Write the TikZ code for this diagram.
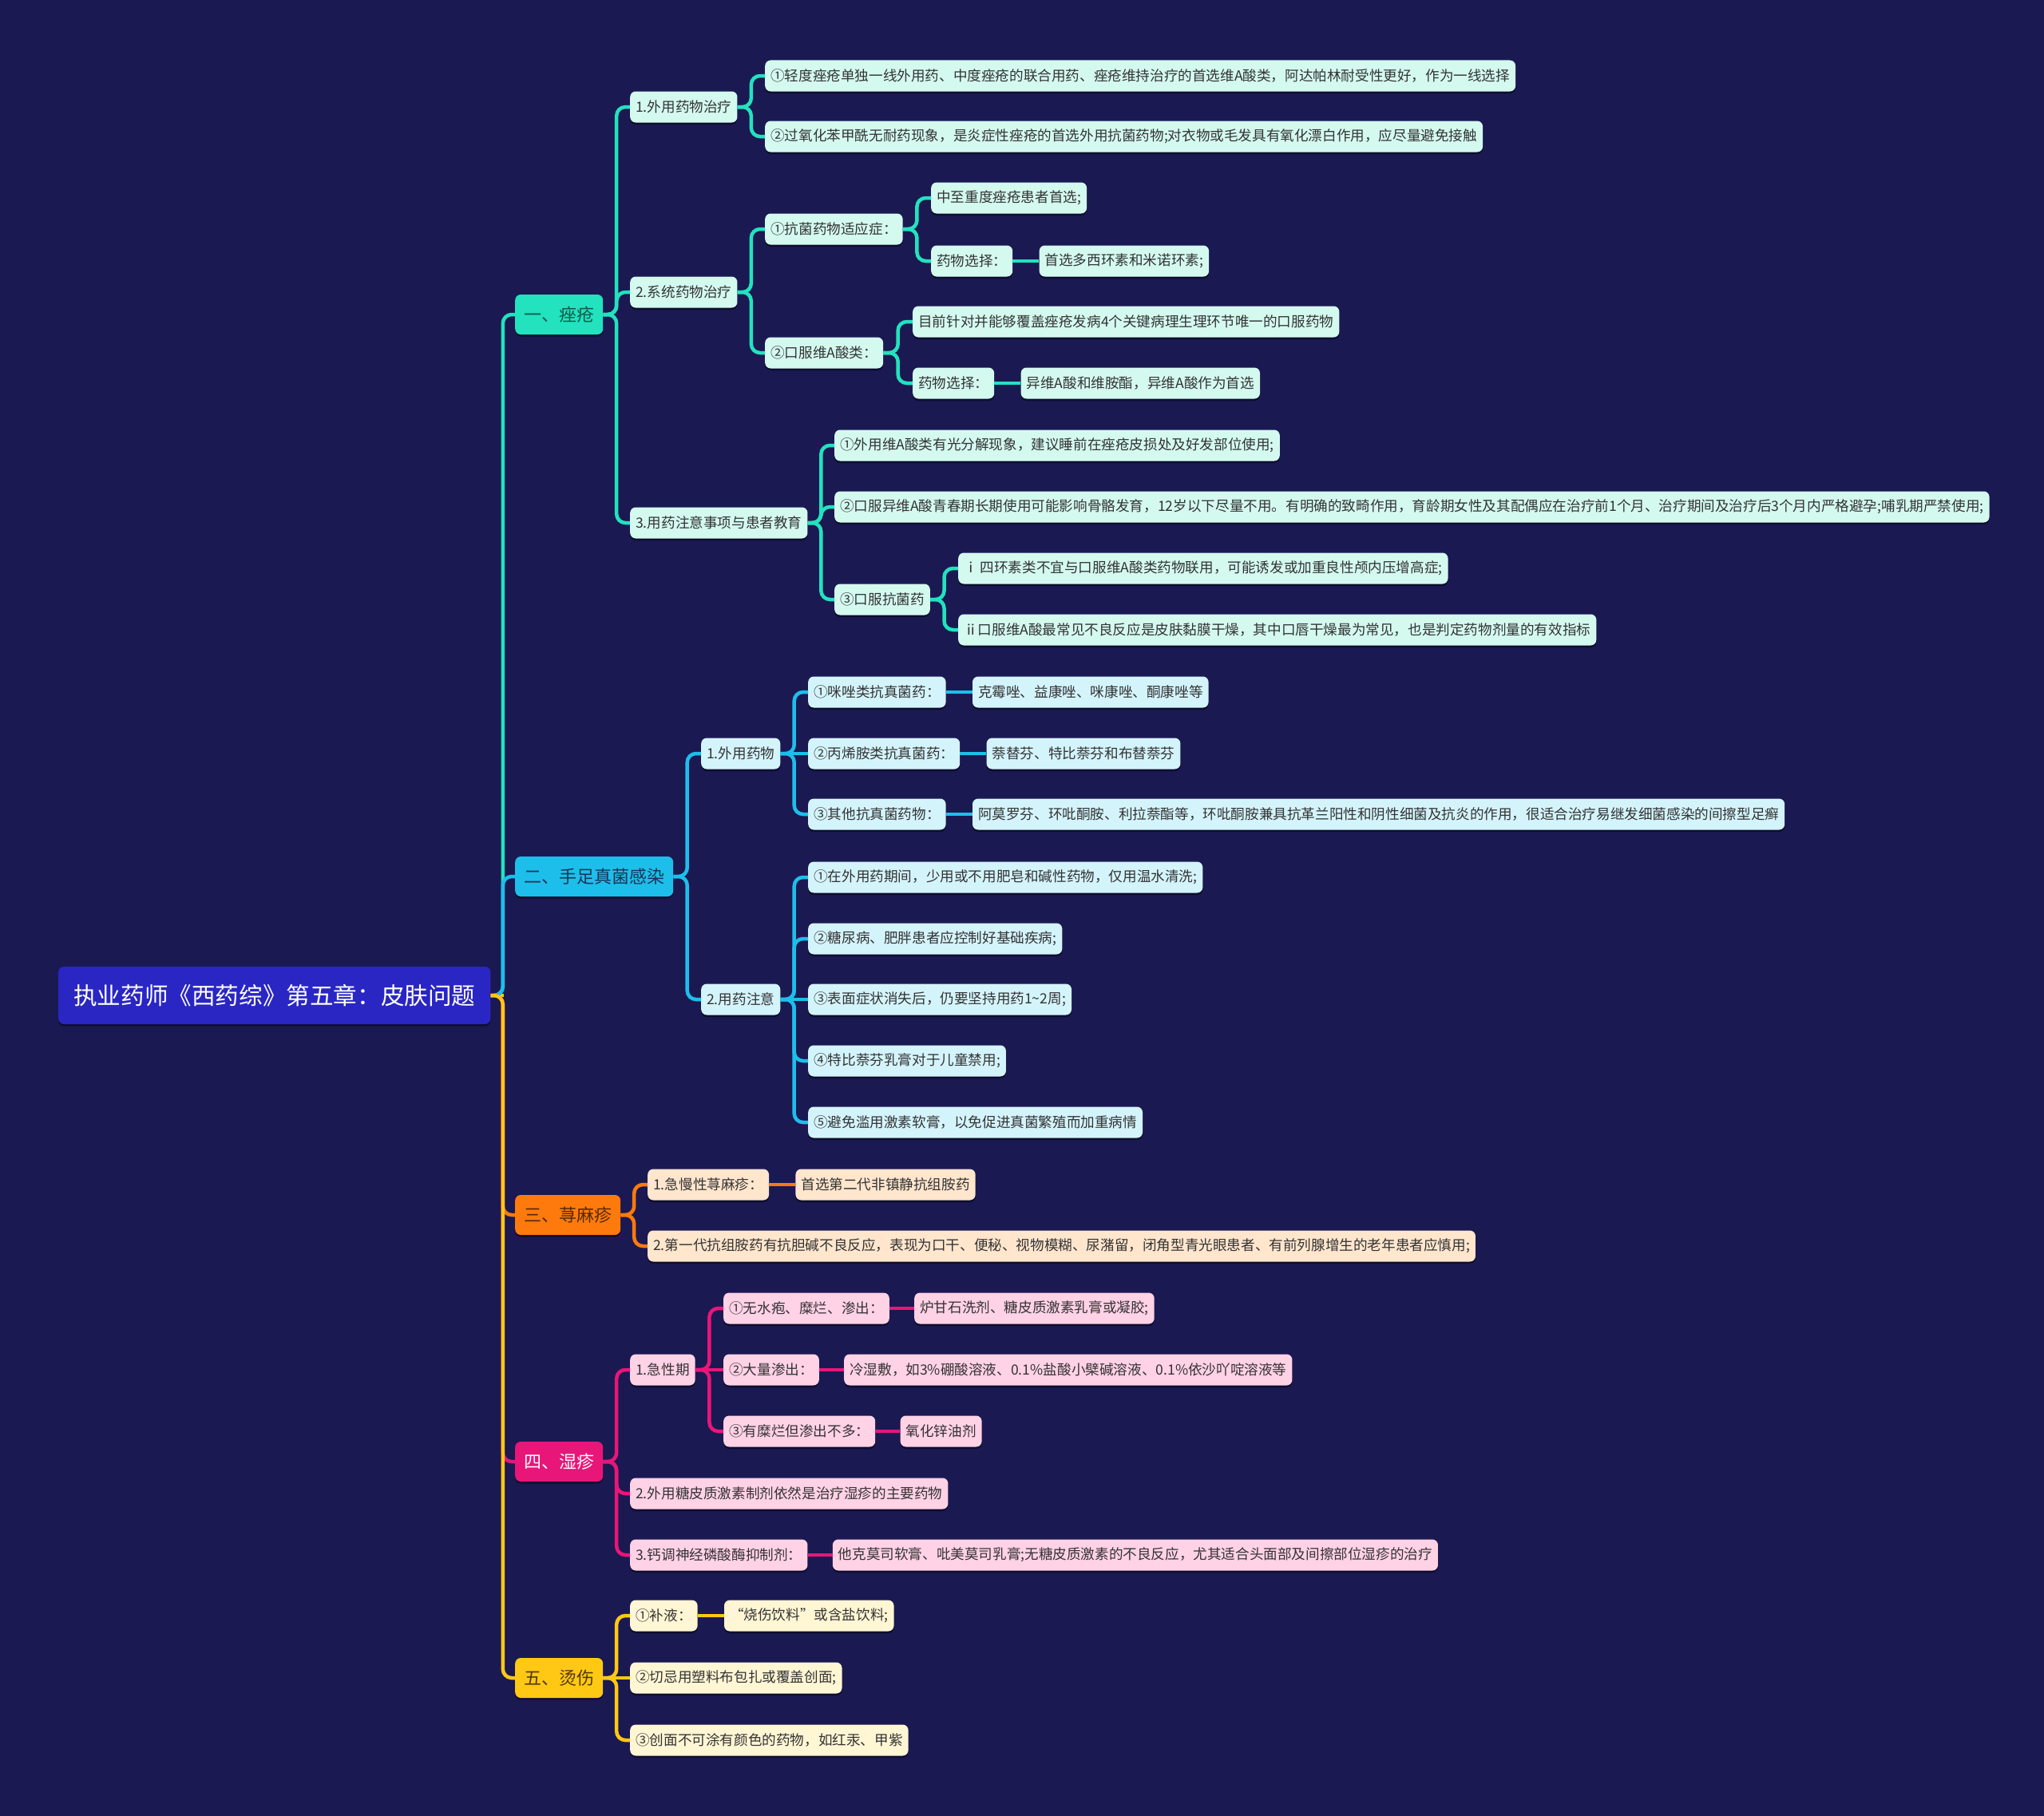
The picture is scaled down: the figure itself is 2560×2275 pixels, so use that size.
\documentclass[tikz,border=0pt]{standalone}
\usepackage{fontspec}
\setmainfont{Noto Sans CJK SC}
\usetikzlibrary{positioning,calc,shadows}
\definecolor{mmbg}{RGB}{27,25,82}
\definecolor{mmroot}{RGB}{42,38,196}
\definecolor{mmteal}{RGB}{35,226,190}
\definecolor{mmtealpale}{RGB}{212,250,240}
\definecolor{mmtealink}{RGB}{15,90,75}
\definecolor{mmcyan}{RGB}{30,190,235}
\definecolor{mmcyanpale}{RGB}{212,244,252}
\definecolor{mmcyanink}{RGB}{20,55,85}
\definecolor{mmorange}{RGB}{255,122,12}
\definecolor{mmorangepale}{RGB}{255,230,205}
\definecolor{mmorangeink}{RGB}{85,40,5}
\definecolor{mmpink}{RGB}{232,22,120}
\definecolor{mmpinkpale}{RGB}{255,210,230}
\definecolor{mmpinkink}{RGB}{75,20,45}
\definecolor{mmyellow}{RGB}{255,200,20}
\definecolor{mmyellowpale}{RGB}{255,246,212}
\definecolor{mmyellowink}{RGB}{80,55,5}

\begin{document}
\begin{tikzpicture}[x=1pt, y=-1pt,
  mmbox/.style={rounded corners=7pt, anchor=west, inner ysep=0pt,
    drop shadow={shadow xshift=0pt, shadow yshift=-2.5pt, opacity=.45, fill=black}},
  rootbox/.style={mmbox, fill=mmroot, text=white, minimum height=72pt,
    inner xsep=19pt, font=\fontsize{29.6}{32}\selectfont},
  topicbox/.style={mmbox, minimum height=50pt, inner xsep=11pt,
    font=\fontsize{22}{24}\selectfont},
  leafbox/.style={mmbox, minimum height=39pt, inner xsep=7pt,
    font=\fontsize{17.6}{20}\selectfont},
  acleaf/.style={leafbox, fill=mmtealpale, text=black!80},
  tinleaf/.style={leafbox, fill=mmcyanpale, text=black!80},
  urtleaf/.style={leafbox, fill=mmorangepale, text=black!80},
  eczleaf/.style={leafbox, fill=mmpinkpale, text=black!80},
  burnleaf/.style={leafbox, fill=mmyellowpale, text=black!80},
  link/.style={line width=4.5pt, rounded corners=11pt},
  branch/.style={to path={let \p1=(\tikztostart), \p2=(\tikztotarget) in
    -- ({(\x1+\x2)/2},\y1) |- (\tikztotarget)}},
  ]
\useasboundingbox (0,0) rectangle (2560,2275);
\fill[mmbg] (0,0) rectangle (2560,2275);

% ================= root and topics =================
\node[rootbox] (root) at (73,1247) {执业药师《西药综》第五章：皮肤问题};
\node[topicbox, fill=mmteal, text=mmtealink] (ac) at (645,394) {一、痤疮};
\node[topicbox, fill=mmcyan, text=mmcyanink] (tin) at (645,1098) {二、手足真菌感染};
\node[topicbox, fill=mmorange, text=mmorangeink] (urt) at (645,1522) {三、荨麻疹};
\node[topicbox, fill=mmpink, text=white] (ecz) at (645,1831) {四、湿疹};
\node[topicbox, fill=mmyellow, text=mmyellowink] (burn) at (645,2102) {五、烫伤};

% ================= 一 =================
\node[acleaf] (ac1) at (789,134) {1.外用药物治疗};
\node[acleaf] (ac11) at (958,95) {①轻度痤疮单独一线外用药、中度痤疮的联合用药、痤疮维持治疗的首选维A酸类，阿达帕林耐受性更好，作为一线选择};
\node[acleaf] (ac12) at (958,171) {②过氧化苯甲酰无耐药现象，是炎症性痤疮的首选外用抗菌药物;对衣物或毛发具有氧化漂白作用，应尽量避免接触};
\node[acleaf] (ac2) at (789,366) {2.系统药物治疗};
\node[acleaf] (ac21) at (958,287) {①抗菌药物适应症：};
\node[acleaf] (ac211) at (1166,248) {中至重度痤疮患者首选;};
\node[acleaf] (ac212) at (1166,327) {药物选择：};
\node[acleaf, right=33pt of ac212] (ac2121) {首选多西环素和米诺环素;};
\node[acleaf] (ac22) at (958,442) {②口服维A酸类：};
\node[acleaf] (ac221) at (1143,403) {目前针对并能够覆盖痤疮发病4个关键病理生理环节唯一的口服药物};
\node[acleaf] (ac222) at (1143,480) {药物选择：};
\node[acleaf, right=33pt of ac222] (ac2221) {异维A酸和维胺酯，异维A酸作为首选};
\node[acleaf] (ac3) at (789,655) {3.用药注意事项与患者教育};
\node[acleaf] (ac31) at (1045,558) {①外用维A酸类有光分解现象，建议睡前在痤疮皮损处及好发部位使用;};
\node[acleaf] (ac32) at (1045,635) {②口服异维A酸青春期长期使用可能影响骨骼发育，12岁以下尽量不用。有明确的致畸作用，育龄期女性及其配偶应在治疗前1个月、治疗期间及治疗后3个月内严格避孕;哺乳期严禁使用;};
\node[acleaf] (ac33) at (1045,751) {③口服抗菌药};
\node[acleaf] (ac331) at (1200,712) {ⅰ\,四环素类不宜与口服维A酸类药物联用，可能诱发或加重良性颅内压增高症;};
\node[acleaf] (ac332) at (1200,789) {ⅱ口服维A酸最常见不良反应是皮肤黏膜干燥，其中口唇干燥最为常见，也是判定药物剂量的有效指标};

% ================= 二 =================
\node[tinleaf] (tin1) at (878,944) {1.外用药物};
\node[tinleaf] (tin11) at (1012,867) {①咪唑类抗真菌药：};
\node[tinleaf, right=33pt of tin11] (tin111) {克霉唑、益康唑、咪康唑、酮康唑等};
\node[tinleaf] (tin12) at (1012,944) {②丙烯胺类抗真菌药：};
\node[tinleaf, right=33pt of tin12] (tin121) {萘替芬、特比萘芬和布替萘芬};
\node[tinleaf] (tin13) at (1012,1020) {③其他抗真菌药物：};
\node[tinleaf, right=33pt of tin13] (tin131) {阿莫罗芬、环吡酮胺、利拉萘酯等，环吡酮胺兼具抗革兰阳性和阴性细菌及抗炎的作用，很适合治疗易继发细菌感染的间擦型足癣};
\node[tinleaf] (tin2) at (878,1252) {2.用药注意};
\node[tinleaf] (tin21) at (1012,1099) {①在外用药期间，少用或不用肥皂和碱性药物，仅用温水清洗;};
\node[tinleaf] (tin22) at (1012,1176) {②糖尿病、肥胖患者应控制好基础疾病;};
\node[tinleaf] (tin23) at (1012,1252) {③表面症状消失后，仍要坚持用药1\textasciitilde2周;};
\node[tinleaf] (tin24) at (1012,1329) {④特比萘芬乳膏对于儿童禁用;};
\node[tinleaf] (tin25) at (1012,1406) {⑤避免滥用激素软膏，以免促进真菌繁殖而加重病情};

% ================= 三 =================
\node[urtleaf] (urt1) at (811,1484) {1.急慢性荨麻疹：};
\node[urtleaf, right=33pt of urt1] (urt11) {首选第二代非镇静抗组胺药};
\node[urtleaf] (urt2) at (811,1561) {2.第一代抗组胺药有抗胆碱不良反应，表现为口干、便秘、视物模糊、尿潴留，闭角型青光眼患者、有前列腺增生的老年患者应慎用;};

% ================= 四 =================
\node[eczleaf] (ecz1) at (789,1716) {1.急性期};
\node[eczleaf] (ecz11) at (906,1639) {①无水疱、糜烂、渗出：};
\node[eczleaf, right=31pt of ecz11] (ecz111) {炉甘石洗剂、糖皮质激素乳膏或凝胶;};
\node[eczleaf] (ecz12) at (906,1716) {②大量渗出：};
\node[eczleaf, right=31pt of ecz12] (ecz121) {冷湿敷，如3\%硼酸溶液、0.1\%盐酸小檗碱溶液、0.1\%依沙吖啶溶液等};
\node[eczleaf] (ecz13) at (906,1793) {③有糜烂但渗出不多：};
\node[eczleaf, right=31pt of ecz13] (ecz131) {氧化锌油剂};
\node[eczleaf] (ecz2) at (789,1871) {2.外用糖皮质激素制剂依然是治疗湿疹的主要药物};
\node[eczleaf] (ecz3) at (789,1948) {3.钙调神经磷酸酶抑制剂：};
\node[eczleaf, right=31pt of ecz3] (ecz31) {他克莫司软膏、吡美莫司乳膏;无糖皮质激素的不良反应，尤其适合头面部及间擦部位湿疹的治疗};

% ================= 五 =================
\node[burnleaf] (burn1) at (789,2024) {①补液：};
\node[burnleaf, right=33pt of burn1] (burn11) {“烧伤饮料”或含盐饮料;};
\node[burnleaf] (burn2) at (789,2102) {②切忌用塑料布包扎或覆盖创面;};
\node[burnleaf] (burn3) at (789,2180) {③创面不可涂有颜色的药物，如红汞、甲紫};

% ================= connectors =================
\draw[link, mmyellow] (root.east) -- ++(16,0);
\foreach \c/\col in {ac/mmteal, tin/mmcyan, urt/mmorange, ecz/mmpink, burn/mmyellow}
  \draw[link, \col] (root.east) to[branch] (\c.west);

\foreach \p/\c in {ac/ac1, ac/ac2, ac/ac3, ac1/ac11, ac1/ac12, ac2/ac21, ac2/ac22,
                   ac21/ac211, ac21/ac212, ac22/ac221, ac22/ac222,
                   ac3/ac31, ac3/ac32, ac3/ac33, ac33/ac331, ac33/ac332}
  \draw[link, mmteal] (\p.east) to[branch] (\c.west);
\foreach \p/\c in {ac212/ac2121, ac222/ac2221}
  \draw[link, mmteal] (\p.east) -- (\c.west);

\foreach \p/\c in {tin/tin1, tin/tin2, tin1/tin11, tin1/tin13,
                   tin2/tin21, tin2/tin22, tin2/tin24, tin2/tin25}
  \draw[link, mmcyan] (\p.east) to[branch] (\c.west);
\foreach \p/\c in {tin1/tin12, tin2/tin23, tin11/tin111, tin12/tin121, tin13/tin131}
  \draw[link, mmcyan] (\p.east) -- (\c.west);

\foreach \p/\c in {urt/urt1, urt/urt2}
  \draw[link, mmorange] (\p.east) to[branch] (\c.west);
\draw[link, mmorange] (urt1.east) -- (urt11.west);

\foreach \p/\c in {ecz/ecz1, ecz/ecz2, ecz/ecz3, ecz1/ecz11, ecz1/ecz13}
  \draw[link, mmpink] (\p.east) to[branch] (\c.west);
\foreach \p/\c in {ecz1/ecz12, ecz11/ecz111, ecz12/ecz121, ecz13/ecz131, ecz3/ecz31}
  \draw[link, mmpink] (\p.east) -- (\c.west);

\foreach \p/\c in {burn/burn1, burn/burn3}
  \draw[link, mmyellow] (\p.east) to[branch] (\c.west);
\foreach \p/\c in {burn/burn2, burn1/burn11}
  \draw[link, mmyellow] (\p.east) -- (\c.west);
\end{tikzpicture}
\end{document}
